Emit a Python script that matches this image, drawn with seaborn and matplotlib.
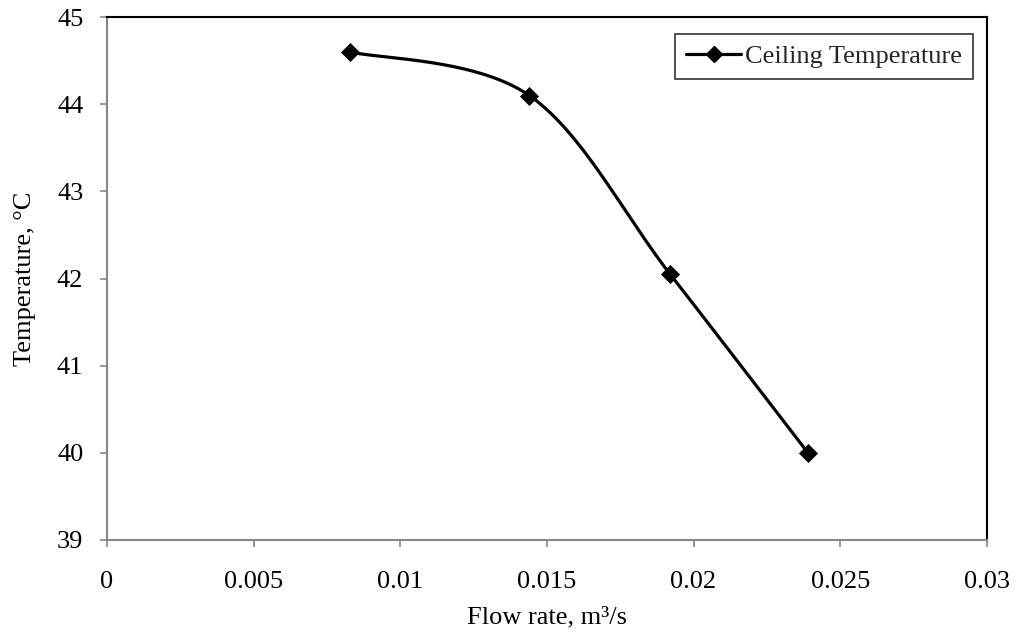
import numpy as np
import pandas as pd
import matplotlib
matplotlib.use("Agg")
import matplotlib.pyplot as plt
from matplotlib.lines import Line2D
import seaborn as sns

# Measured data
flow_rate = [0.0083, 0.0144, 0.0192, 0.0239]
ceiling_temp = [44.6, 44.1, 42.05, 40.0]
series_name = "Ceiling Temperature"

x_ticks = [0, 0.005, 0.01, 0.015, 0.02, 0.025, 0.03]
x_tick_labels = ["0", "0.005", "0.01", "0.015", "0.02", "0.025", "0.03"]
y_ticks = [39, 40, 41, 42, 43, 44, 45]

sns.set_theme(style="white")
plt.rcParams["font.family"] = ["Liberation Serif", "DejaVu Serif"]

XLIM = (0, 0.03)
YLIM = (39, 45)


def smooth_curve(xs, ys, xlim, ylim, aspect, n=60):
    """Bezier smoothing through the points (spreadsheet-style, tension 1/6)."""
    px = (np.asarray(xs) - xlim[0]) / (xlim[1] - xlim[0]) * aspect
    py = (np.asarray(ys) - ylim[0]) / (ylim[1] - ylim[0])
    P = np.column_stack([px, py])
    Pe = np.vstack([P[0], P, P[-1]])
    out = []
    t = np.linspace(0, 1, n)[:, None]
    for i in range(len(P) - 1):
        p0, p1, pm, pp = Pe[i + 1], Pe[i + 2], Pe[i], Pe[i + 3]
        c1 = p0 + (p1 - pm) / 6.0
        c2 = p1 - (pp - p0) / 6.0
        seg = ((1 - t) ** 3) * p0 + 3 * ((1 - t) ** 2) * t * c1 \
            + 3 * (1 - t) * t ** 2 * c2 + t ** 3 * p1
        out.append(seg if i == 0 else seg[1:])
    c = np.vstack(out)
    cx = c[:, 0] / aspect * (xlim[1] - xlim[0]) + xlim[0]
    cy = c[:, 1] * (ylim[1] - ylim[0]) + ylim[0]
    return cx, cy


fig = plt.figure(figsize=(10.16, 6.33), dpi=100)
ax = fig.add_axes([0.1053, 0.147, 0.866, 0.826])

ax_w = 0.866 * 10.16
ax_h = 0.826 * 6.33
cx, cy = smooth_curve(flow_rate, ceiling_temp, XLIM, YLIM, ax_w / ax_h)

curve = pd.DataFrame({"x": cx, "y": cy})
pts = pd.DataFrame({"x": flow_rate, "y": ceiling_temp})

sns.lineplot(data=curve, x="x", y="y", ax=ax, color="black", linewidth=2.3,
             sort=False, estimator=None)
sns.scatterplot(data=pts, x="x", y="y", ax=ax, marker="D", s=85,
                color="black", edgecolor="black", linewidth=0.5, zorder=3)

ax.set_xlim(*XLIM)
ax.set_ylim(*YLIM)
ax.set_xticks(x_ticks)
ax.set_xticklabels(x_tick_labels)
ax.set_yticks(y_ticks)
ax.set_yticklabels([str(v) for v in y_ticks])

ax.tick_params(axis="both", which="major", direction="out", length=5,
               width=1.2, color="#868686", labelsize=19, labelcolor="black",
               bottom=True, left=True, top=False, right=False)
ax.tick_params(axis="y", pad=12)
ax.tick_params(axis="x", pad=17)

for side in ("left", "bottom"):
    ax.spines[side].set_color("#868686")
    ax.spines[side].set_linewidth(1.5)
for side in ("top", "right"):
    ax.spines[side].set_color("black")
    ax.spines[side].set_linewidth(1.5)

ax.set_xlabel("Flow rate, m³/s", fontsize=19, color="black", labelpad=10)
ax.set_ylabel("Temperature, °C", fontsize=19, color="black", labelpad=15)

handle = Line2D([0], [0], color="black", linewidth=2.3, marker="D",
                markersize=8.5)
leg = ax.legend([handle], [series_name], loc="upper right",
                bbox_to_anchor=(0.984, 0.9675), fontsize=19, frameon=True,
                fancybox=False, borderpad=0.4, handlelength=2.1,
                handletextpad=0.15, borderaxespad=0.0)
leg.get_frame().set_edgecolor("black")
leg.get_frame().set_linewidth(1.2)

fig.savefig("out.png", dpi=100)
